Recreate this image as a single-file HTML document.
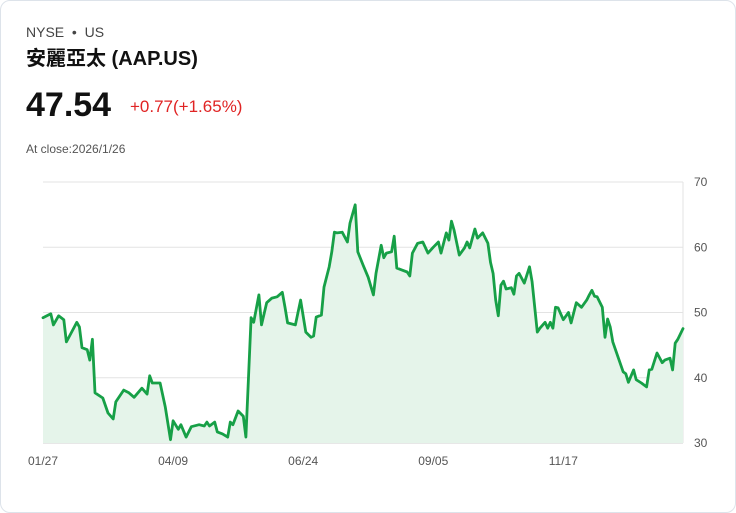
<!DOCTYPE html>
<html><head><meta charset="utf-8"><style>
body{margin:0;background:#fff;font-family:"Liberation Sans","Noto Sans CJK TC",sans-serif;}
.card{position:absolute;left:0;top:0;width:734px;height:511px;border:1px solid #dde3ea;border-radius:10px;background:#fff;}
.t{position:absolute;white-space:nowrap;}
</style></head><body>
<div class="card">
<div class="t" style="left:25px;top:23px;font-size:14px;color:#444;">NYSE &nbsp;•&nbsp; US</div>
<div class="t" style="left:25px;top:41px;font-size:20px;font-weight:bold;color:#111;">安麗亞太 (AAP.US)</div>
<div class="t" style="left:25px;top:85px;font-size:34px;font-weight:bold;color:#111;">47.54</div>
<div class="t" style="left:129px;top:96px;font-size:17px;color:#e02424;">+0.77(+1.65%)</div>
<div class="t" style="left:25px;top:141px;font-size:12px;color:#555;">At close:2026/1/26</div>
<svg id="chart" width="736" height="513" style="position:absolute;left:-1px;top:-1px;"></svg>
</div>
<script>
const days=[0,3,4,6,8,9,11,13,14,15,17,18,19,20,23,25,27,28,31,33,35,38,40,41,42,45,47,49,50,52,53,55,57,60,62,63,64,66,67,69,71,72,73,75,77,78,80,81,83,84,86,88,90,92,93,94,97,99,101,103,104,105,107,108,110,111,112,113,115,117,118,120,121,123,125,127,128,130,131,132,134,135,136,138,140,141,142,144,146,148,150,152,153,155,156,157,158,160,162,163,164,166,167,169,171,172,173,174,175,176,177,178,180,181,182,183,185,187,188,190,191,193,194,195,196,197,198,200,202,203,205,207,209,210,211,212,213,215,216,217,218,219,223,224,225,227,228,230,232,233,234,236,238,239,241,242,243,244,246];
const prices=[49.2,49.8,48.1,49.5,48.9,45.5,47,48.5,47.8,44.6,44.3,42.7,45.9,37.7,36.9,34.6,33.7,36.3,38.1,37.7,37,38.4,37.5,40.3,39.2,39.2,35.5,30.5,33.4,32.1,32.8,30.9,32.5,32.8,32.6,33.2,32.6,33.2,31.7,31.4,30.9,33.2,32.8,34.9,34.1,30.9,49.2,48.5,52.7,48.1,51.5,52.2,52.4,53.1,50.8,48.4,48.1,51.9,47,46.2,46.4,49.3,49.6,53.9,57,59.3,62.3,62.2,62.3,60.8,63.7,66.5,59.3,57.3,55.4,52.7,56,60.3,58.4,59.1,59.3,61.7,56.8,56.5,56.2,55.6,59.1,60.6,60.8,59.1,60,60.8,59.1,62.2,61.1,64,62.6,58.8,59.9,60.8,59.9,62.8,61.4,62.2,60.6,57.7,56,51.9,49.5,54.2,54.8,53.6,53.8,52.8,55.6,56,54.5,57,54.7,47,47.6,48.5,47.6,48.5,47.6,50.8,50.7,48.9,50,48.4,51.5,50.8,51.9,52.7,53.4,52.5,52.4,50.8,46.2,49,47.8,45.5,40.9,40.6,39.3,41.2,39.7,39.2,38.6,41.2,41.3,43.8,42.3,42.7,43,41.2,45.3,45.9,47.54];
const yTicks=[30,40,50,60,70];
const xTickDays=[0,50,100,150,200];
const xTickLabels=['01/27','04/09','06/24','09/05','11/17'];
const NS='http://www.w3.org/2000/svg',svg=document.getElementById('chart');
const X0=43,X1=683,Y0=443,Y1=182,DMAX=246;
const xs=d=>X0+(d/DMAX)*(X1-X0);
const ys=v=>Y0-(v-30)/40*(Y0-Y1);
function mk(t,a){const e=document.createElementNS(NS,t);for(const k in a)e.setAttribute(k,a[k]);svg.appendChild(e);return e;}
yTicks.forEach(v=>{
 const l=mk('line',{x1:X0,x2:X1,y1:ys(v),y2:ys(v),stroke:v===30?'#cfcfcf':'#e3e3e3','stroke-width':1});
 
 
 const t=mk('text',{x:694,y:ys(v)+4,'font-size':12,fill:'#555','font-family':'Liberation Sans, sans-serif'});
 t.textContent=v;
 
 
});
const ax=mk('line',{x1:X1,x2:X1,y1:Y1,y2:Y0,stroke:'#e3e3e3','stroke-width':1});


xTickDays.forEach((d,i)=>{
 const t=mk('text',{x:xs(d),y:465,'font-size':12,fill:'#555','text-anchor':'middle','font-family':'Liberation Sans, sans-serif'});
 t.textContent=xTickLabels[i];
 
 
});
let p='';days.forEach((d,i)=>{p+=(i?'L':'M')+xs(d).toFixed(1)+' '+ys(prices[i]).toFixed(1);});
const area=mk('path',{d:p+'L'+xs(days[days.length-1])+' '+Y0+'L'+xs(days[0])+' '+Y0+'Z',fill:'#e5f4ea'});


const line=mk('path',{d:p,fill:'none',stroke:'#17a047','stroke-width':2.8,'stroke-linejoin':'round','stroke-linecap':'round'});


</script>
</body></html>
